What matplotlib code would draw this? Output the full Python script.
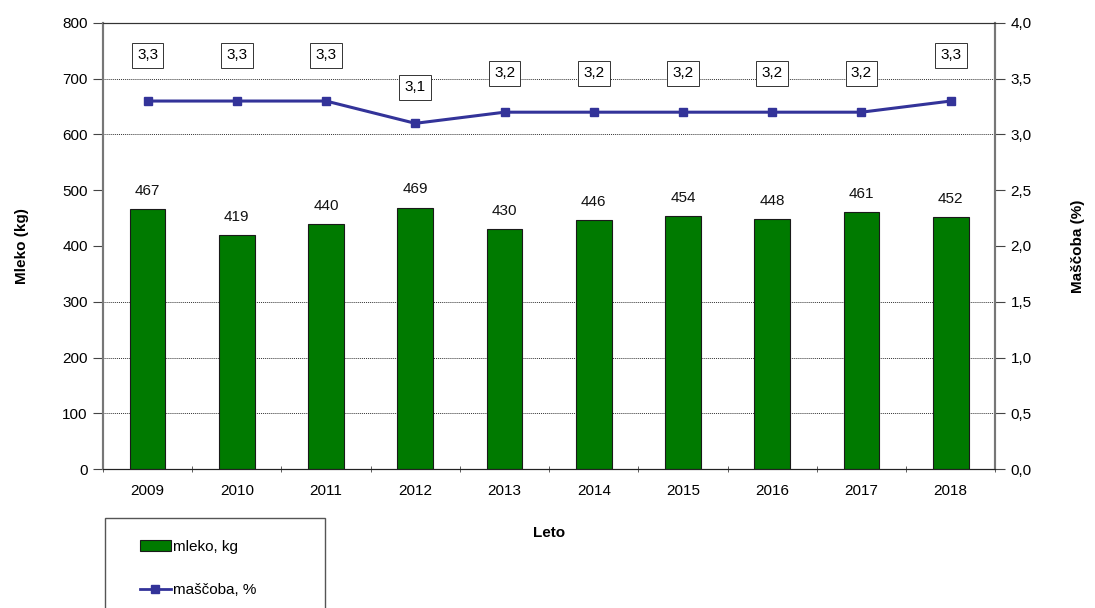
import matplotlib
matplotlib.use("Agg")
import matplotlib.pyplot as plt
from matplotlib.patches import Rectangle
from matplotlib.lines import Line2D
from matplotlib.ticker import FuncFormatter, MultipleLocator
import numpy as np

plt.rcParams['font.family'] = ['Liberation Sans', 'DejaVu Sans']
plt.rcParams['font.size'] = 11

# letna povprecja
leta = ['2009', '2010', '2011', '2012', '2013', '2014', '2015', '2016', '2017', '2018']
mleko = [467, 419, 440, 469, 430, 446, 454, 448, 461, 452]
mascoba = [3.3, 3.3, 3.3, 3.1, 3.2, 3.2, 3.2, 3.2, 3.2, 3.3]

x = np.arange(len(leta))

fig = plt.figure(figsize=(10.95, 6.08), dpi=100)
ax = fig.add_axes([0.094, 0.2286, 0.815, 0.7336])
ax2 = ax.twinx()

# stolpci - mleko
ax.bar(x, mleko, width=0.4, color='#007a00', edgecolor='#1a1a1a', linewidth=0.8, zorder=3)
for xi, v in zip(x, mleko):
    ax.annotate(str(v), (xi, v), xytext=(0, 8), textcoords='offset points',
                ha='center', va='bottom', color='#111111')

# pomozne crte mreze
for g in [100, 200, 300, 600, 700]:
    ax.axhline(g, color='#333333', linestyle=(0, (1, 1)), linewidth=0.7, zorder=1)

ax.set_xlim(-0.5, len(leta) - 0.5)
ax.set_ylim(0, 800)
ax.yaxis.set_major_locator(MultipleLocator(100))
ax.set_xticks(x)
ax.set_xticklabels(leta)
ax.set_xticks(np.arange(-0.5, len(leta)), minor=True)
ax.tick_params(axis='x', which='major', length=0, pad=11)
ax.tick_params(axis='x', which='minor', length=5, direction='inout', color='#444444')
ax.tick_params(axis='y', length=7, direction='out', color='#444444', pad=4)
ax.set_ylabel('Mleko (kg)', fontweight='bold', labelpad=24)
ax.set_xlabel('Leto', fontweight='bold', labelpad=20)

# crta - mascoba
ax2.plot(x, mascoba, color='#333399', linewidth=2.2, marker='s', markersize=6, zorder=4)
for xi, v in zip(x, mascoba):
    dy = 33 if v >= 3.3 else 28 if v >= 3.2 else 26
    ax2.annotate(f'{v:.1f}'.replace('.', ','), (xi, v), xytext=(0, dy), textcoords='offset points',
                 ha='center', va='center',
                 bbox=dict(boxstyle='square,pad=0.35', fc='white', ec='#333333', lw=0.7))
ax2.set_ylim(0, 4.0)
ax2.yaxis.set_major_locator(MultipleLocator(0.5))
ax2.yaxis.set_major_formatter(FuncFormatter(lambda v, p: f'{v:.1f}'.replace('.', ',')))
ax2.tick_params(axis='y', length=7, direction='out', color='#444444', pad=4)
ax2.set_ylabel('Maščoba (%)', fontweight='bold', labelpad=28)

for a in (ax, ax2):
    a.spines['left'].set_color('#777777')
    a.spines['left'].set_linewidth(1.5)
    a.spines['right'].set_color('#777777')
    a.spines['right'].set_linewidth(1.5)
    a.spines['top'].set_color('#333333')
    a.spines['bottom'].set_color('#222222')

# legenda
fig.patches.append(Rectangle((105 / 1095, -0.05), 220 / 1095, 1 - 518 / 608 + 0.05,
                             transform=fig.transFigure, fill=False, ec='#555555', lw=1))
handles = [Rectangle((0, 0), 1, 1, fc='#007a00', ec='#1a1a1a', lw=0.8),
           Line2D([0], [0], color='#333399', lw=2, marker='s', markersize=6)]
fig.legend(handles, ['mleko, kg', 'maščoba, %'], loc='upper left',
           bbox_to_anchor=(140 / 1095, 1 - 540 / 608), frameon=False,
           handlelength=2.0, handletextpad=0.15, labelspacing=1.9,
           borderpad=0, borderaxespad=0)

fig.savefig('out.png', dpi=100)
